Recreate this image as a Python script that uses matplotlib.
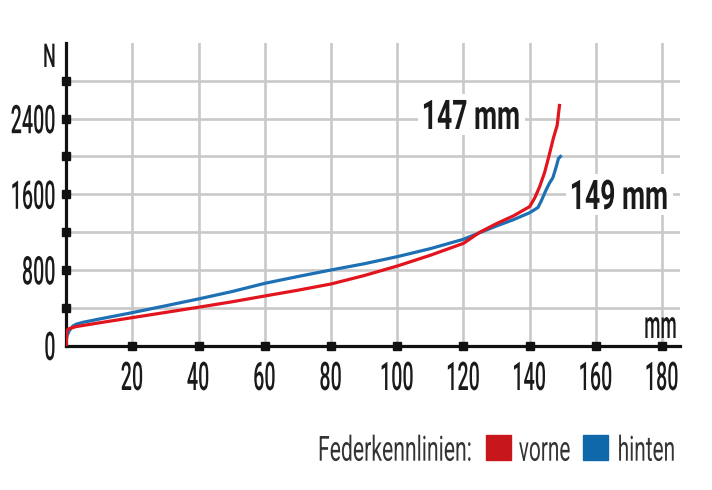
import matplotlib
matplotlib.use("Agg")
import matplotlib.pyplot as plt
from matplotlib.patheffects import AbstractPathEffect
from matplotlib.transforms import Affine2D, IdentityTransform
from matplotlib.path import Path
from matplotlib.patches import Rectangle

# spring curves: travel in mm, force in N
vorne_mm = [0, 0.2, 1, 3, 10, 20, 30, 40, 50, 60, 70, 80, 90, 100, 110, 120,
            125, 130, 135, 140, 141.5, 143, 144.5, 146, 147.2, 148.3, 149]
vorne_n = [0, 160, 180, 200, 240, 295, 350, 405, 462, 524, 585, 651, 740, 841, 955, 1081,
           1200, 1290, 1370, 1470, 1560, 1680, 1830, 2030, 2200, 2330, 2540]

hinten_mm = [0, 0.3, 1, 2, 3, 5, 10, 20, 30, 40, 50, 60, 70, 80, 90, 100, 110, 120,
             125, 130, 135, 140, 142.5, 143.5, 145, 146, 147, 148, 148.7, 149.3]
hinten_n = [60, 110, 160, 205, 225, 245, 280, 348, 420, 493, 570, 658, 730, 799, 865, 940,
            1025, 1124, 1195, 1265, 1330, 1405, 1460, 1530, 1650, 1720, 1775, 1890, 1980, 2000]

x_ticks = [20, 40, 60, 80, 100, 120, 140, 160, 180]
y_ticks = [400, 800, 1200, 1600, 2000, 2400, 2800]
y_labels = [0, 800, 1600, 2400]

RED = "#e2141d"
BLUE = "#1d70b3"
GRID = "#c9c9c9"
INK = "#1a1a1a"
W, H = 712, 490


class Squeeze(AbstractPathEffect):
    """Draw the glyphs narrower (the print uses a condensed face).

    src: point of the ink that is kept fixed while squeezing,
    dst: where that point ends up (lets the ink sit on the other side of the anchor),
    box: pad in pixels of a white box drawn behind the squeezed ink.
    """

    def __init__(self, sx, src="left", dst=None, box=None):
        super().__init__()
        self.sx, self.src, self.dst, self.box = sx, src, dst or src, box

    def draw_path(self, renderer, gc, tpath, affine, rgbFace=None):
        xs = tpath.vertices[:, 0]
        pos = {"left": xs.min(), "center": (xs.min() + xs.max()) / 2, "right": xs.max()}
        tr = Affine2D().translate(-pos[self.src], 0).scale(self.sx, 1).translate(pos[self.dst], 0) + affine
        if self.box is not None:
            (x1, y1), (x2, y2) = tpath.get_extents(tr).get_points()
            p = self.box
            rect = Path([(x1 - p, y1 - p), (x2 + p, y1 - p), (x2 + p, y2 + p),
                         (x1 - p, y2 + p), (x1 - p, y1 - p)], closed=True)
            gc0 = renderer.new_gc()
            gc0.copy_properties(gc)
            gc0.set_linewidth(0)
            renderer.draw_path(gc0, rect, IdentityTransform(), (1, 1, 1))
        renderer.draw_path(gc, tpath, tr, rgbFace)


plt.rcParams["font.family"] = ["Roboto", "DejaVu Sans"]

fig = plt.figure(figsize=(W / 100, H / 100), dpi=100)
ax = fig.add_axes([66.2 / W, (H - 345.5) / H, (680 - 66.2) / W, (345.5 - 42.7) / H])
ax.set_xlim(0, 185.4)
ax.set_ylim(0, 3204)

# grid
ax.set_xticks(x_ticks)
ax.set_yticks(y_ticks)
ax.grid(color=GRID, lw=1.9, zorder=0)
ax.set_axisbelow(True)
ax.tick_params(length=0, labelbottom=False, labelleft=False)
for side in ["top", "right"]:
    ax.spines[side].set_visible(False)
for side in ["left", "bottom"]:
    ax.spines[side].set_linewidth(2.3)
    ax.spines[side].set_color("#111111")

# square tick marks on the axes
ax.plot(x_ticks, [0] * len(x_ticks), "s", ms=5.5, color="#111111", clip_on=False, zorder=5)
ax.plot([0] * len(y_ticks), y_ticks, "s", ms=5.5, color="#111111", clip_on=False, zorder=5)

# curves
ax.plot(hinten_mm, hinten_n, color=BLUE, lw=2.3, zorder=3)
ax.plot(vorne_mm, vorne_n, color=RED, lw=2.3, zorder=4)

# tick labels (y labels: ink ends at the anchor, the unsqueezed box lies to its right)
for v in y_labels:
    ax.annotate(str(v), (0, v), xytext=(-11.7, -14.5), textcoords="offset pixels",
                ha="left", va="baseline", fontsize=28.4, fontweight="medium", color=INK,
                annotation_clip=False, path_effects=[Squeeze(0.5, "right", "left")])
for v in x_ticks:
    ax.annotate(str(v), (v, 0), xytext=(0, -44.5), textcoords="offset pixels",
                ha="center", va="baseline", fontsize=28.4, fontweight="medium", color=INK,
                annotation_clip=False, path_effects=[Squeeze(0.5, "center")])

# axis units
fig.text(43 / W, 1 - 67 / H, "N", ha="left", va="baseline", fontsize=23.6,
         fontweight="medium", color=INK, path_effects=[Squeeze(0.55, "left")])
fig.text(678 / W, 1 - 338 / H, "mm", ha="right", va="baseline", fontsize=28,
         fontweight="medium", color=INK, path_effects=[Squeeze(0.48, "right")])

# end travel labels
ax.text(107.4, 2291, "147 mm", ha="left", va="baseline", fontsize=29.4, fontweight="bold",
        color=INK, zorder=6, path_effects=[Squeeze(0.65, "left", box=6)])
ax.annotate("149 mm", (152.8, 1444), ha="right", va="baseline", fontsize=29.4,
            fontweight="bold", color=INK, zorder=6,
            path_effects=[Squeeze(0.65, "left", "right", box=6)])

# legend line below the chart (ink starts at the anchor, unsqueezed box lies to its left)
legend_font = dict(ha="right", va="baseline", fontsize=25, fontweight="normal", color="#333333")
fig.text(320 / W, 1 - 460.7 / H, "Federkennlinien:", **legend_font,
         path_effects=[Squeeze(0.61, "left", "right")])
fig.add_artist(Rectangle((485.7 / W, 1 - 460 / H), 25 / W, 25 / H, color="#c8161d",
                         transform=fig.transFigure))
fig.text(520 / W, 1 - 460.7 / H, "vorne", **legend_font,
         path_effects=[Squeeze(0.6, "left", "right")])
fig.add_artist(Rectangle((582.7 / W, 1 - 460 / H), 25 / W, 25 / H, color="#0e68aa",
                         transform=fig.transFigure))
fig.text(620 / W, 1 - 460.7 / H, "hinten", **legend_font,
         path_effects=[Squeeze(0.6, "left", "right")])

fig.savefig("out.png", dpi=100)
